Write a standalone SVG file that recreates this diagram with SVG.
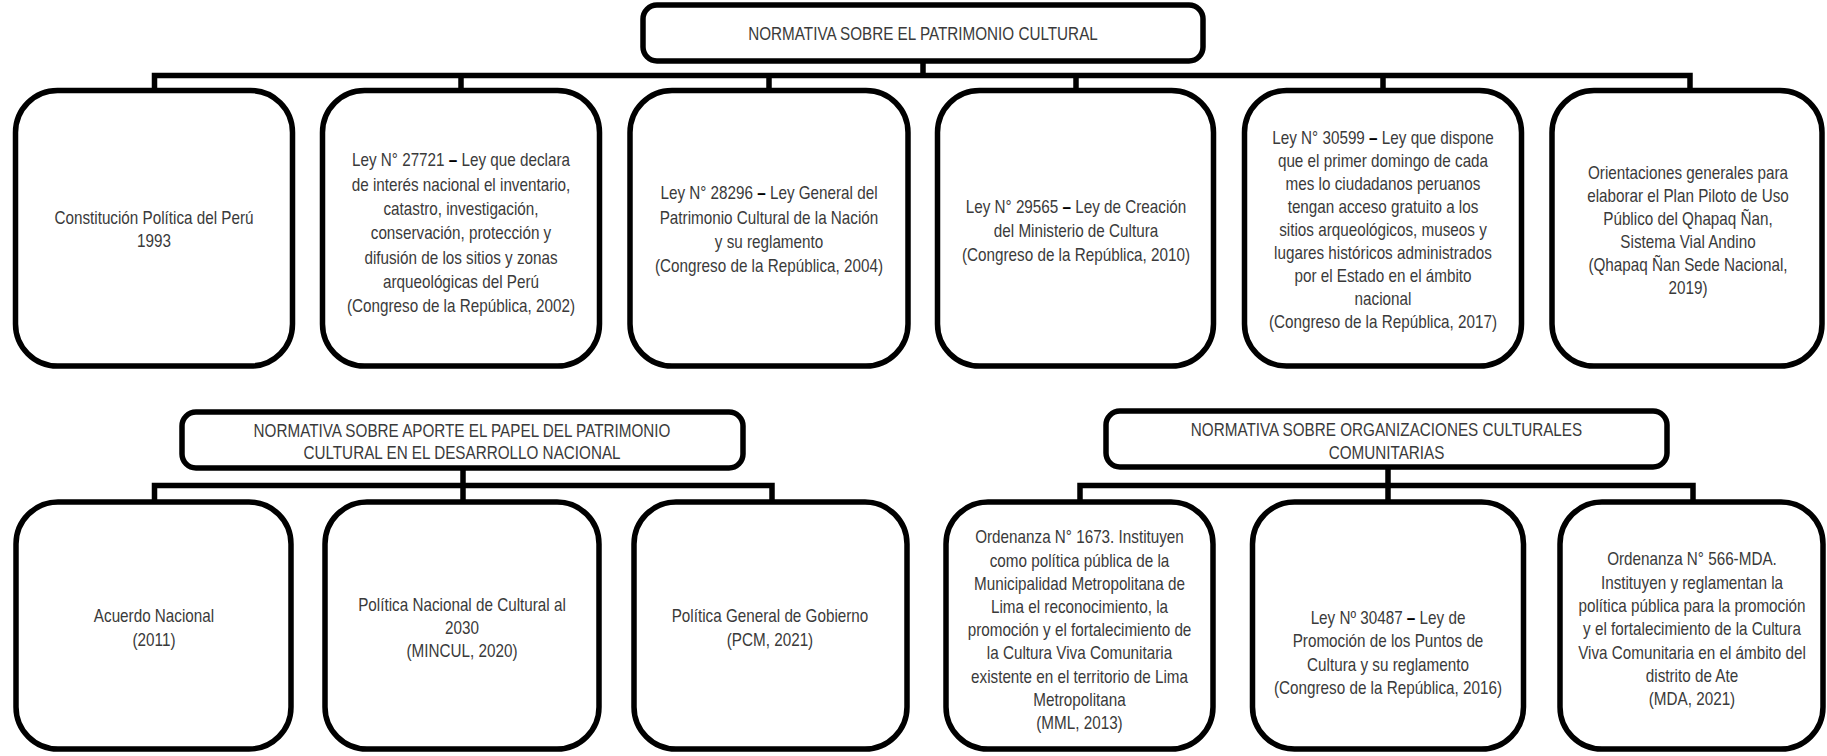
<svg xmlns="http://www.w3.org/2000/svg" width="1827" height="756" viewBox="0 0 1827 756">
<style>
.box{fill:#fff;stroke:#000;stroke-width:5.5}
.con{fill:none;stroke:#000;stroke-width:5.5;stroke-linejoin:miter;stroke-linecap:butt}
text{font-family:"Liberation Sans",Arial,sans-serif;font-size:18.6px;fill:#3a3a3a;text-anchor:middle}
.b{font-weight:bold;fill:#000}
</style>
<rect width="1827" height="756" fill="#fff"/>
<g id="connectors">
<path class="con" d="M923 61V75.5M154.5 90.5V75.5H1690V90.5M461 75.5V90.5M769 75.5V90.5M1076 75.5V90.5M1383 75.5V90.5"/>
<path class="con" d="M463 468V485.5M154.5 502V485.5H772V502M463 485.5V502"/>
<path class="con" d="M1388 467V485.5M1080 502V485.5H1693V502M1388 485.5V502"/>
</g>
<g id="title1">
<rect class="box" x="643" y="5" width="560" height="56" rx="14"/>
<g transform="translate(923 0) scale(0.82 1)">
<text x="0" y="40.5">NORMATIVA SOBRE EL PATRIMONIO CULTURAL</text>
</g>
</g>
<g id="n1">
<rect class="box" x="15.5" y="90.5" width="277" height="275.5" rx="42"/>
<g transform="translate(154 0) scale(0.82 1)">
<text x="0" y="224.5">Constitución Política del Perú</text>
<text x="0" y="247.5">1993</text>
</g>
</g>
<g id="n2">
<rect class="box" x="322.5" y="90.5" width="277" height="275.5" rx="42"/>
<g transform="translate(461 0) scale(0.82 1)">
<text x="0" y="166.5">Ley N° 27721 <tspan class="b">–</tspan> Ley que declara</text>
<text x="0" y="190.8">de interés nacional el inventario,</text>
<text x="0" y="215.1">catastro, investigación,</text>
<text x="0" y="239.4">conservación, protección y</text>
<text x="0" y="263.7">difusión de los sitios y zonas</text>
<text x="0" y="288">arqueológicas del Perú</text>
<text x="0" y="312.3">(Congreso de la República, 2002)</text>
</g>
</g>
<g id="n3">
<rect class="box" x="630" y="90.5" width="278" height="275.5" rx="42"/>
<g transform="translate(769 0) scale(0.82 1)">
<text x="0" y="199.5">Ley N° 28296 <tspan class="b">–</tspan> Ley General del</text>
<text x="0" y="223.8">Patrimonio Cultural de la Nación</text>
<text x="0" y="248.1">y su reglamento</text>
<text x="0" y="272.4">(Congreso de la República, 2004)</text>
</g>
</g>
<g id="n4">
<rect class="box" x="937.5" y="90.5" width="276" height="275.5" rx="42"/>
<g transform="translate(1076 0) scale(0.82 1)">
<text x="0" y="213.5">Ley N° 29565 <tspan class="b">–</tspan> Ley de Creación</text>
<text x="0" y="237.5">del Ministerio de Cultura</text>
<text x="0" y="261.5">(Congreso de la República, 2010)</text>
</g>
</g>
<g id="n5">
<rect class="box" x="1244.5" y="90.5" width="277" height="275.5" rx="42"/>
<g transform="translate(1383 0) scale(0.82 1)">
<text x="0" y="144">Ley N° 30599 <tspan class="b">–</tspan> Ley que dispone</text>
<text x="0" y="167">que el primer domingo de cada</text>
<text x="0" y="190">mes lo ciudadanos peruanos</text>
<text x="0" y="213">tengan acceso gratuito a los</text>
<text x="0" y="236">sitios arqueológicos, museos y</text>
<text x="0" y="259">lugares históricos administrados</text>
<text x="0" y="282">por el Estado en el ámbito</text>
<text x="0" y="305">nacional</text>
<text x="0" y="328">(Congreso de la República, 2017)</text>
</g>
</g>
<g id="n6">
<rect class="box" x="1552" y="90.5" width="270" height="275.5" rx="42"/>
<g transform="translate(1688 0) scale(0.82 1)">
<text x="0" y="179">Orientaciones generales para</text>
<text x="0" y="202">elaborar el Plan Piloto de Uso</text>
<text x="0" y="225">Público del Qhapaq Ñan,</text>
<text x="0" y="248">Sistema Vial Andino</text>
<text x="0" y="271">(Qhapaq Ñan Sede Nacional,</text>
<text x="0" y="294">2019)</text>
</g>
</g>
<g id="title2">
<rect class="box" x="182" y="412" width="561" height="56" rx="14"/>
<g transform="translate(462 0) scale(0.82 1)">
<text x="0" y="437">NORMATIVA SOBRE APORTE EL PAPEL DEL PATRIMONIO</text>
<text x="0" y="459.5">CULTURAL EN EL DESARROLLO NACIONAL</text>
</g>
</g>
<g id="m1">
<rect class="box" x="16" y="502" width="275" height="247" rx="42"/>
<g transform="translate(154 0) scale(0.82 1)">
<text x="0" y="622.5">Acuerdo Nacional</text>
<text x="0" y="646">(2011)</text>
</g>
</g>
<g id="m2">
<rect class="box" x="325" y="502" width="274" height="247" rx="42"/>
<g transform="translate(462 0) scale(0.82 1)">
<text x="0" y="611.5">Política Nacional de Cultural al</text>
<text x="0" y="634.5">2030</text>
<text x="0" y="657.5">(MINCUL, 2020)</text>
</g>
</g>
<g id="m3">
<rect class="box" x="634" y="502" width="273" height="247" rx="42"/>
<g transform="translate(770 0) scale(0.82 1)">
<text x="0" y="622.5">Política General de Gobierno</text>
<text x="0" y="646">(PCM, 2021)</text>
</g>
</g>
<g id="title3">
<rect class="box" x="1106" y="411" width="561" height="56" rx="14"/>
<g transform="translate(1386.5 0) scale(0.82 1)">
<text x="0" y="436.5">NORMATIVA SOBRE ORGANIZACIONES CULTURALES</text>
<text x="0" y="459">COMUNITARIAS</text>
</g>
</g>
<g id="m4">
<rect class="box" x="946" y="502" width="267" height="247" rx="42"/>
<g transform="translate(1079.5 0) scale(0.82 1)">
<text x="0" y="543.5">Ordenanza N° 1673. Instituyen</text>
<text x="0" y="566.7">como política pública de la</text>
<text x="0" y="589.9">Municipalidad Metropolitana de</text>
<text x="0" y="613.1">Lima el reconocimiento, la</text>
<text x="0" y="636.3">promoción y el fortalecimiento de</text>
<text x="0" y="659.5">la Cultura Viva Comunitaria</text>
<text x="0" y="682.7">existente en el territorio de Lima</text>
<text x="0" y="705.9">Metropolitana</text>
<text x="0" y="729.1">(MML, 2013)</text>
</g>
</g>
<g id="m5">
<rect class="box" x="1252.5" y="502" width="271" height="247" rx="42"/>
<g transform="translate(1388 0) scale(0.82 1)">
<text x="0" y="624">Ley Nº 30487 <tspan class="b">–</tspan> Ley de</text>
<text x="0" y="647.3">Promoción de los Puntos de</text>
<text x="0" y="670.6">Cultura y su reglamento</text>
<text x="0" y="693.9">(Congreso de la República, 2016)</text>
</g>
</g>
<g id="m6">
<rect class="box" x="1560" y="502" width="263" height="247" rx="42"/>
<g transform="translate(1692 0) scale(0.82 1)">
<text x="0" y="565.5">Ordenanza N° 566-MDA.</text>
<text x="0" y="588.8">Instituyen y reglamentan la</text>
<text x="0" y="612.1">política pública para la promoción</text>
<text x="0" y="635.4">y el fortalecimiento de la Cultura</text>
<text x="0" y="658.7">Viva Comunitaria en el ámbito del</text>
<text x="0" y="682">distrito de Ate</text>
<text x="0" y="705.3">(MDA, 2021)</text>
</g>
</g>
</svg>
